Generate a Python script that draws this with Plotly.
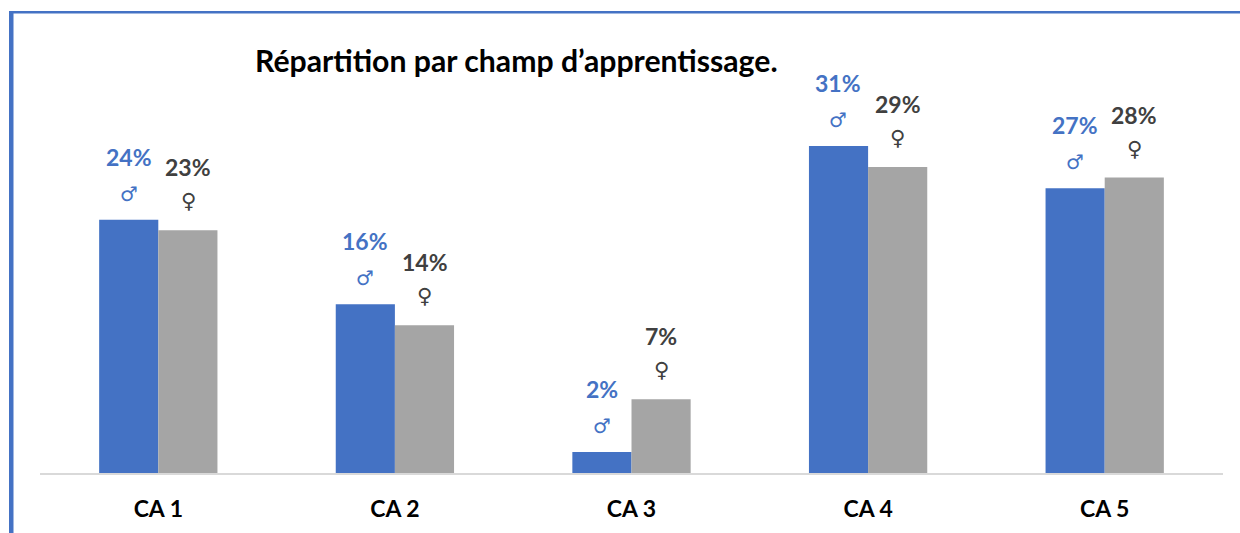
import plotly.graph_objects as go

categories = ["CA 1", "CA 2", "CA 3", "CA 4", "CA 5"]
male_values = [24, 16, 2, 31, 27]
female_values = [23, 14, 7, 29, 28]
title_text = "Répartition par champ d’apprentissage."
male_symbol = "♂"
female_symbol = "♀"

BLUE = "#4472C4"
GRAY = "#A5A5A5"
DARK = "#404040"
FONT = "Lato"
W, H = 1240, 533
L, R, T, B = 40, 17, 13, 60
PX_PER_UNIT = 10.55
plot_h = H - T - B
bar_shift = 29.7


def fx(px):
    return (px - L) / (W - L - R)


def fy(py):
    return (H - B - py) / plot_h


fig = go.Figure()
fig.add_bar(x=categories, y=male_values, name="Hommes", marker=dict(color=BLUE, line=dict(width=0)))
fig.add_bar(x=categories, y=female_values, name="Femmes", marker=dict(color=GRAY, line=dict(width=0)))

annotations = []
for series, sym, colour, shift, sym_off, sym_size in (
    (male_values, male_symbol, BLUE, -bar_shift, 26, 20),
    (female_values, female_symbol, DARK, bar_shift, 29, 21),
):
    for c, v in zip(categories, series):
        annotations.append(dict(x=c, y=v, xref="x", yref="y", text=f"{v}%", showarrow=False,
                                xshift=shift, yshift=63, yanchor="middle",
                                font=dict(family=FONT, size=23, color=colour, weight="bold")))
        annotations.append(dict(x=c, y=v, xref="x", yref="y", text=sym, showarrow=False,
                                xshift=shift, yshift=sym_off, yanchor="middle",
                                font=dict(family="DejaVu Sans", size=sym_size, color=colour)))
annotations.append(dict(x=fx(516), y=fy(60), xref="paper", yref="paper", text=title_text,
                        showarrow=False, xanchor="center", yanchor="middle",
                        font=dict(family=FONT, size=30.2, color="black", weight="bold")))

shapes = [
    dict(type="rect", xref="paper", yref="paper", x0=fx(9), x1=fx(13.5), y0=fy(533), y1=fy(11),
         fillcolor=BLUE, line=dict(width=0), layer="above"),
    dict(type="rect", xref="paper", yref="paper", x0=fx(9), x1=fx(1240), y0=fy(13.5), y1=fy(11),
         fillcolor=BLUE, line=dict(width=0), layer="above"),
]

fig.update_layout(
    width=W, height=H, autosize=False, barmode="group", bargap=0.5, bargroupgap=0,
    margin=dict(l=L, r=R, t=T, b=B, pad=0, autoexpand=False), showlegend=False,
    paper_bgcolor="white", plot_bgcolor="white",
    annotations=annotations, shapes=shapes,
    xaxis=dict(type="category", showgrid=False, showline=True, linecolor="#D9D9D9", linewidth=2,
               ticks="", ticklabelstandoff=14,
               tickfont=dict(family=FONT, size=23, color="black", weight="bold")),
    yaxis=dict(visible=False, range=[0, plot_h / PX_PER_UNIT]),
)
fig.write_html("out.html", post_script="document.body.style.margin='0';",
               config={"displayModeBar": False})
